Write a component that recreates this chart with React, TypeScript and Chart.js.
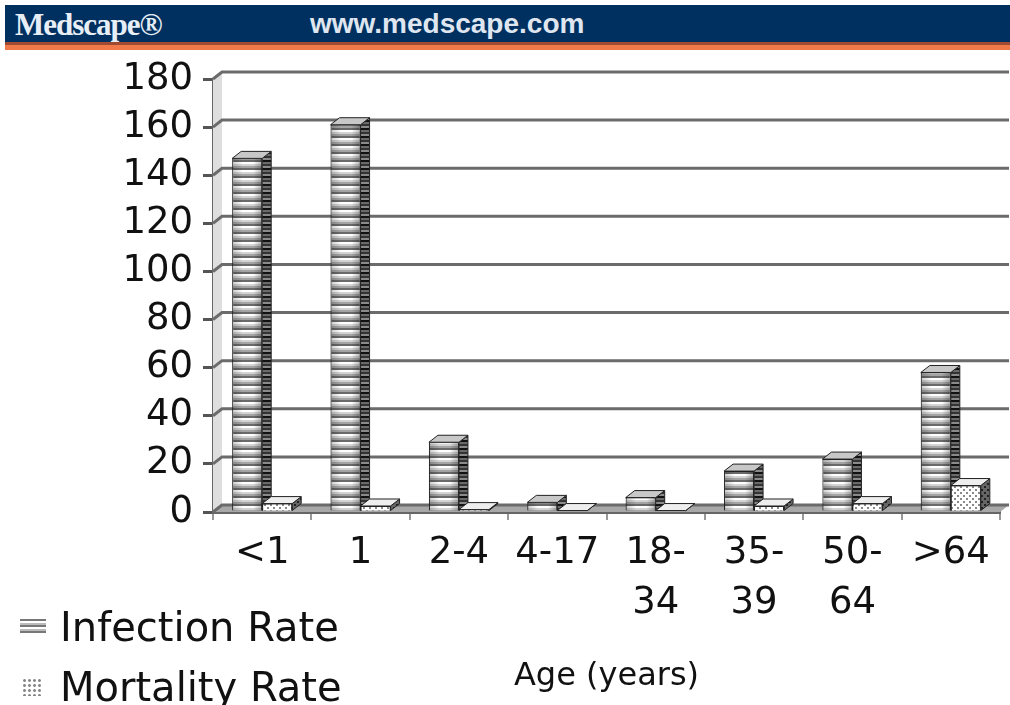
import React, { useEffect, useRef } from 'react';
import { Chart, registerables } from 'chart.js';

Chart.register(...registerables);

// ---------- data ----------
const categories: string[][] = [['<1'], ['1'], ['2-4'], ['4-17'], ['18-', '34'], ['35-', '39'], ['50-', '64'], ['>64']];
const infectionRate: number[] = [147, 161, 29, 4, 6, 17, 22, 58];
const mortalityRate: number[] = [3.5, 2.5, 1, 0.6, 0.6, 2.5, 3.5, 11];
const yMin = 0;
const yMax = 180;
const yStep = 20;
const seriesNames = ['Infection Rate', 'Mortality Rate'];
const axisTitle = 'Age (years)';
const headerLogo = 'Medscape®';
const headerUrl = 'www.medscape.com';

// ---------- style ----------
const FONT = "'DejaVu Sans', sans-serif";
const DX = 9;
const DY = -7;

function stripePattern(colors: string[], rowH: number): CanvasPattern | string {
  const c = document.createElement('canvas');
  c.width = 4;
  c.height = colors.length * rowH;
  const g = c.getContext('2d');
  if (!g) return colors[0];
  colors.forEach((col, i) => {
    g.fillStyle = col;
    g.fillRect(0, i * rowH, 4, rowH);
  });
  return g.createPattern(c, 'repeat') || colors[0];
}

function dotPattern(bg: string, dot: string): CanvasPattern | string {
  const c = document.createElement('canvas');
  c.width = 6;
  c.height = 6;
  const g = c.getContext('2d');
  if (!g) return bg;
  g.fillStyle = bg;
  g.fillRect(0, 0, 6, 6);
  g.fillStyle = dot;
  g.fillRect(0, 0, 2, 2);
  g.fillRect(3, 3, 2, 2);
  return g.createPattern(c, 'repeat') || bg;
}

const FRONT_STRIPES = ['#6a6a6a', '#ffffff', '#d4d4d4', '#a4a4a4'];
const SIDE_STRIPES = ['#111111', '#6a6a6a', '#333333', '#8a8a8a'];

export default function App() {
  const ref = useRef<HTMLCanvasElement | null>(null);

  useEffect(() => {
    document.body.style.margin = '0';
    const canvas = ref.current;
    if (!canvas) return;

    const frontInf = stripePattern(FRONT_STRIPES, 2);
    const sideInf = stripePattern(SIDE_STRIPES, 2);
    const frontMort = dotPattern('#ffffff', '#8a8a8a');
    const sideMort = dotPattern('#666666', '#222222');

    const drawFaces = (ctx: CanvasRenderingContext2D, meta: any, side: any, topCol: string, shade: boolean) => {
      ctx.save();
      meta.data.forEach((el: any) => {
        const p = el.getProps(['x', 'y', 'base', 'width'], true);
        const l = p.x - p.width / 2;
        const r = p.x + p.width / 2;
        if (shade) {
          const g = ctx.createLinearGradient(l, 0, r, 0);
          g.addColorStop(0, 'rgba(0,0,0,0.22)');
          g.addColorStop(0.35, 'rgba(0,0,0,0)');
          g.addColorStop(0.7, 'rgba(0,0,0,0)');
          g.addColorStop(1, 'rgba(0,0,0,0.3)');
          ctx.fillStyle = g;
          ctx.fillRect(l, p.y, r - l, p.base - p.y);
        }
        ctx.fillStyle = side;
        ctx.strokeStyle = '#222';
        ctx.lineWidth = 1;
        ctx.beginPath();
        ctx.moveTo(r, p.y);
        ctx.lineTo(r + DX, p.y + DY);
        ctx.lineTo(r + DX, p.base + DY);
        ctx.lineTo(r, p.base);
        ctx.closePath();
        ctx.fill();
        ctx.stroke();
        ctx.fillStyle = topCol;
        ctx.beginPath();
        ctx.moveTo(l, p.y);
        ctx.lineTo(l + DX, p.y + DY);
        ctx.lineTo(r + DX, p.y + DY);
        ctx.lineTo(r, p.y);
        ctx.closePath();
        ctx.fill();
        ctx.stroke();
      });
      ctx.restore();
    };

    const depthPlugin = {
      id: 'depth3d',
      beforeDatasetsDraw(chart: any) {
        const { ctx, chartArea, scales } = chart;
        const y = scales.y;
        const { left, right, top, bottom } = chartArea;
        ctx.save();
        ctx.fillStyle = '#dedede';
        ctx.beginPath();
        ctx.moveTo(left, bottom);
        ctx.lineTo(left + DX, bottom + DY);
        ctx.lineTo(left + DX, top + DY);
        ctx.lineTo(left, top);
        ctx.closePath();
        ctx.fill();
        ctx.fillStyle = '#a8a8a8';
        ctx.beginPath();
        ctx.moveTo(left, bottom);
        ctx.lineTo(left + DX, bottom + DY);
        ctx.lineTo(right + DX, bottom + DY);
        ctx.lineTo(right, bottom);
        ctx.closePath();
        ctx.fill();
        ctx.strokeStyle = '#6b6b6b';
        ctx.lineWidth = 3;
        y.ticks.forEach((t: any) => {
          const py = y.getPixelForValue(t.value);
          ctx.beginPath();
          ctx.moveTo(left, py);
          ctx.lineTo(left + DX, py + DY);
          ctx.lineTo(right + DX, py + DY);
          ctx.stroke();
        });
        ctx.restore();
      },
      afterDatasetDraw(chart: any, args: any) {
        if (args.meta.index === 0) drawFaces(chart.ctx, args.meta, sideInf, '#c8c8c8', true);
      },
      afterDatasetsDraw(chart: any) {
        const ctx = chart.ctx;
        const meta = chart.getDatasetMeta(1);
        ctx.save();
        meta.data.forEach((el: any) => el.draw(ctx));
        ctx.restore();
        drawFaces(ctx, meta, sideMort, '#eeeeee', false);
      },
    };

    const chart = new Chart(canvas, {
      type: 'bar',
      data: {
        labels: categories,
        datasets: [
          {
            label: seriesNames[0],
            data: infectionRate,
            backgroundColor: frontInf as any,
            borderColor: '#222',
            borderWidth: 1,
            categoryPercentage: 0.61,
            barPercentage: 1.0,
          },
          {
            label: seriesNames[1],
            data: mortalityRate,
            backgroundColor: frontMort as any,
            borderColor: '#222',
            borderWidth: 1,
            categoryPercentage: 0.61,
            barPercentage: 1.0,
          },
        ],
      },
      options: {
        responsive: false,
        animation: false,
        layout: { padding: { top: 79, right: 10, left: 0, bottom: 0 } },
        plugins: {
          legend: { display: false },
          tooltip: { enabled: false },
        },
        scales: {
          x: {
            grid: {
              display: true,
              drawOnChartArea: false,
              drawTicks: true,
              tickLength: 8,
              color: '#999',
              lineWidth: 2,
              offset: true,
            },
            border: { display: true, color: '#666', width: 3 },
            ticks: {
              font: { family: FONT, size: 37, lineHeight: 1.35 },
              color: '#111',
              padding: 8,
              maxRotation: 0,
              autoSkip: false,
            },
            title: {
              display: true,
              text: axisTitle,
              font: { family: FONT, size: 32 },
              color: '#111',
              padding: { top: 0, bottom: 9 },
            },
            afterFit: (s: any) => {
              s.height = 193;
            },
          },
          y: {
            min: yMin,
            max: yMax,
            ticks: {
              stepSize: yStep,
              font: { family: FONT, size: 37 },
              color: '#111',
              padding: 10,
            },
            grid: {
              drawOnChartArea: false,
              drawTicks: true,
              tickLength: 10,
              color: '#555',
              lineWidth: 3,
            },
            border: { display: true, color: '#666', width: 3 },
            afterFit: (s: any) => {
              s.width = 213;
            },
          },
        },
      },
      plugins: [depthPlugin],
    });

    return () => chart.destroy();
  }, []);

  const stripeBg =
    'repeating-linear-gradient(to bottom, #777 0px, #777 2px, #fff 2px, #fff 4px, #bbb 4px, #bbb 6px)';
  const dotBg = 'radial-gradient(circle, #888 1.2px, transparent 1.6px) 0 0 / 5px 5px, #fff';

  return (
    <div style={{ position: 'relative', width: 1010, height: 705, background: '#fff', overflow: 'hidden' }}>
      <canvas ref={ref} width={1010} height={705} style={{ position: 'absolute', left: 0, top: 0 }} />
      <div style={{ position: 'absolute', left: 5, top: 5, width: 1005, height: 37, background: '#00305f' }}>
        <span
          style={{
            position: 'absolute',
            left: 10,
            top: 2,
            fontFamily: "'Liberation Serif', serif",
            fontWeight: 'bold',
            fontSize: 31,
            color: '#e8eef6',
            letterSpacing: -1,
          }}
        >
          {headerLogo}
        </span>
        <span
          style={{
            position: 'absolute',
            left: 305,
            top: 3,
            fontFamily: "'Liberation Sans', sans-serif",
            fontWeight: 'bold',
            fontSize: 28,
            color: '#dfe6f0',
          }}
        >
          {headerUrl}
        </span>
      </div>
      <div style={{ position: 'absolute', left: 5, top: 42, width: 1005, height: 3, background: '#a04a32' }} />
      <div style={{ position: 'absolute', left: 5, top: 45, width: 1005, height: 5, background: '#f07a4a' }} />
      <div style={{ position: 'absolute', left: 20, top: 619, width: 26, height: 16, background: stripeBg }} />
      <div
        style={{
          position: 'absolute',
          left: 60,
          top: 603,
          fontFamily: FONT,
          fontSize: 40,
          color: '#111',
          lineHeight: '48px',
          whiteSpace: 'nowrap',
        }}
      >
        {seriesNames[0]}
      </div>
      <div style={{ position: 'absolute', left: 22, top: 678, width: 20, height: 18, background: dotBg }} />
      <div
        style={{
          position: 'absolute',
          left: 60,
          top: 663,
          fontFamily: FONT,
          fontSize: 40,
          color: '#111',
          lineHeight: '48px',
          whiteSpace: 'nowrap',
        }}
      >
        {seriesNames[1]}
      </div>
    </div>
  );
}
